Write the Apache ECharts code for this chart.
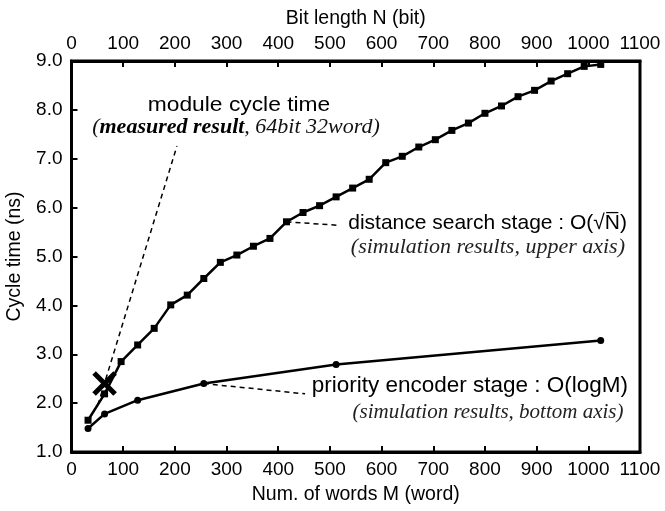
<!DOCTYPE html>
<html>
<head>
<meta charset="utf-8">
<script src="https://cdn.jsdelivr.net/npm/echarts@6/dist/echarts.min.js"></script>
<style>
  html, body { margin: 0; padding: 0; background: #fff; }
  #main { width: 665px; height: 511px; }
</style>
</head>
<body>
<div id="main"></div>
<script>
// distance search stage, upper axis (bit length N)
const bitLength = [32, 64, 96, 128, 160, 192, 224, 256, 288, 320, 352, 384, 416, 448, 480, 512,
    544, 576, 608, 640, 672, 704, 736, 768, 800, 832, 864, 896, 928, 960, 992, 1024];
const searchTime = [1.65, 2.19, 2.85, 3.19, 3.53, 4.01, 4.21, 4.55, 4.88, 5.03, 5.21, 5.37, 5.71, 5.90, 6.04, 6.22,
    6.40, 6.58, 6.92, 7.05, 7.24, 7.39, 7.58, 7.73, 7.93, 8.08, 8.27, 8.40, 8.59, 8.74, 8.89, 8.93];

// priority encoder stage, bottom axis (number of words M)
const numWords = [32, 64, 128, 256, 512, 1024];
const encoderTime = [1.48, 1.78, 2.06, 2.40, 2.79, 3.28];

// measured module cycle time (64bit 32word), upper axis
const measured = [[64, 2.40]];

// dashed leader lines (axis units)
const leaderMeasured = [[51, 1.96], [204, 7.26]];   // upper axis
const leaderSearch = [[416, 5.71], [513, 5.64]];    // upper axis
const leaderEncoder = [[256, 2.40], [452, 2.19]];   // bottom axis

const SANS = 'Liberation Sans, Arial, sans-serif';
const SERIF = 'Liberation Serif, Times New Roman, serif';

const zip = (xs, ys) => xs.map((x, i) => [x, ys[i]]);

const chart = echarts.init(document.getElementById('main'), null, { renderer: 'canvas' });

const xCommon = {
    type: 'value',
    min: 0,
    max: 1100,
    interval: 100,
    nameLocation: 'middle',
    nameTextStyle: { fontFamily: SANS, fontSize: 19.5, color: '#000' },
    axisLine: { show: true, onZero: false, lineStyle: { color: '#000', width: 3 } },
    axisTick: { show: true, inside: true, length: 6, lineStyle: { color: '#000', width: 2 } },
    axisLabel: { fontFamily: SANS, fontSize: 19, color: '#000', margin: 8,
        formatter: v => String(v) },
    splitLine: { show: false }
};

const option = {
    animation: false,
    backgroundColor: '#fff',
    grid: {
        left: 71.5, right: 25, top: 61, bottom: 59,
        containLabel: false,
        outerBoundsMode: 'none',
        show: true, borderColor: '#000', borderWidth: 3
    },
    xAxis: [
        Object.assign({}, xCommon, { position: 'bottom', name: 'Num. of words M (word)', nameGap: 33 }),
        Object.assign({}, xCommon, { position: 'top', name: 'Bit length N (bit)', nameGap: 32 })
    ],
    yAxis: {
        type: 'value',
        min: 1,
        max: 9,
        interval: 1,
        name: 'Cycle time (ns)',
        nameLocation: 'middle',
        nameGap: 47,
        nameTextStyle: { fontFamily: SANS, fontSize: 19.5, color: '#000' },
        axisLine: { show: true, lineStyle: { color: '#000', width: 3 } },
        axisTick: { show: true, inside: true, length: 6, lineStyle: { color: '#000', width: 2 } },
        axisLabel: { fontFamily: SANS, fontSize: 19, color: '#000', margin: 9,
            formatter: v => v.toFixed(1) },
        splitLine: { show: false }
    },
    series: [
        {
            type: 'line', name: 'leader measured', xAxisIndex: 1,
            data: leaderMeasured, symbol: 'none', silent: true,
            lineStyle: { color: '#000', width: 1.5, type: [5, 4] }
        },
        {
            type: 'line', name: 'leader search', xAxisIndex: 1,
            data: leaderSearch, symbol: 'none', silent: true,
            lineStyle: { color: '#000', width: 1.5, type: [5, 4] }
        },
        {
            type: 'line', name: 'leader encoder', xAxisIndex: 0,
            data: leaderEncoder, symbol: 'none', silent: true,
            lineStyle: { color: '#000', width: 1.5, type: [5, 4] }
        },
        {
            type: 'line', name: 'distance search stage', xAxisIndex: 1,
            data: zip(bitLength, searchTime),
            symbol: 'rect', symbolSize: 7,
            itemStyle: { color: '#000' },
            lineStyle: { color: '#000', width: 2.5 }
        },
        {
            type: 'line', name: 'priority encoder stage', xAxisIndex: 0,
            data: zip(numWords, encoderTime),
            symbol: 'circle', symbolSize: 7,
            itemStyle: { color: '#000' },
            lineStyle: { color: '#000', width: 2.5 }
        },
        {
            type: 'scatter', name: 'measured', xAxisIndex: 1,
            data: measured,
            symbol: 'path://M0,0L20,20M20,0L0,20', symbolSize: 21,
            itemStyle: { color: 'none', borderColor: '#000', borderWidth: 5, opacity: 1 },
            z: 5
        }
    ],
    graphic: [
        {
            type: 'text', x: 239, y: 105, scaleX: 1.14,
            style: { text: 'module cycle time', font: '20px ' + SANS, fill: '#000',
                align: 'center', verticalAlign: 'middle' }
        },
        {
            type: 'text', x: 236, y: 127,
            style: {
                text: '{p|(}{b|measured result}{p|, 64bit 32word)}',
                align: 'center', verticalAlign: 'middle',
                rich: {
                    p: { fontFamily: SERIF, fontStyle: 'italic', fontSize: 22, fill: '#111' },
                    b: { fontFamily: SERIF, fontStyle: 'italic', fontWeight: 'bold', fontSize: 22, fill: '#000' }
                }
            }
        },
        {
            type: 'text', x: 627, y: 223,
            style: { text: 'distance search stage : O(\u221AN\u0305)', font: '21px ' + SANS, fill: '#000',
                align: 'right', verticalAlign: 'middle' }
        },
        {
            type: 'text', x: 625, y: 247,
            style: { text: '(simulation results, upper axis)', font: 'italic 22px ' + SERIF, fill: '#222',
                align: 'right', verticalAlign: 'middle' }
        },
        {
            type: 'text', x: 628, y: 386,
            style: { text: 'priority encoder stage : O(logM)', font: '22.5px ' + SANS, fill: '#000',
                align: 'right', verticalAlign: 'middle' }
        },
        {
            type: 'text', x: 488, y: 412,
            style: { text: '(simulation results, bottom axis)', font: 'italic 21px ' + SERIF, fill: '#222',
                align: 'center', verticalAlign: 'middle' }
        }
    ]
};

chart.setOption(option);
</script>
</body>
</html>
